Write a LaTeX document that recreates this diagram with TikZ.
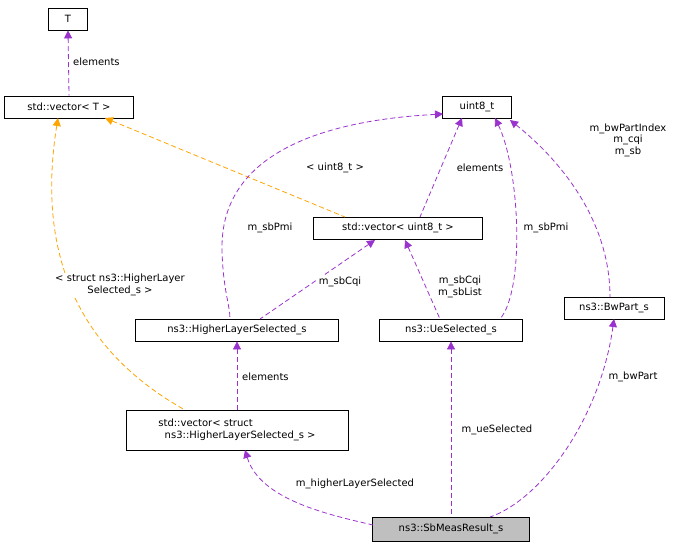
\documentclass[tikz,border=0pt]{standalone}
\usepackage{fontspec}
\setmainfont{DejaVu Sans}
\usetikzlibrary{arrows.meta}
\definecolor{pur}{RGB}{154,50,205}
\definecolor{org}{RGB}{255,165,0}
\definecolor{gr}{RGB}{191,191,191}
\begin{document}
\begin{tikzpicture}[x=1pt,y=-1pt,
  box/.style={draw,fill=white,inner sep=2pt,font=\fontsize{10}{11.5}\selectfont,align=left,line width=0.8pt},
  lbl/.style={font=\fontsize{10}{11.5}\selectfont,align=center,fill=white,inner sep=1pt},
  pe/.style={color=pur,draw=pur,line width=0.8pt,dash pattern=on 5pt off 3pt,{Triangle[length=8pt,width=8pt,fill=pur]}-},
  oe/.style={color=org,draw=org,line width=0.8pt,dash pattern=on 5pt off 3pt,{Triangle[length=8pt,width=8pt,fill=org]}-}]
\useasboundingbox (0,0) rectangle (700,549);
\node[box,minimum width=39pt,minimum height=22pt] (T) at (68,19) {T};
\node[box,minimum width=129pt,minimum height=22pt] (vT) at (69,107) {std::vector< T >};
\node[box,minimum width=69pt,minimum height=22pt] (u8) at (477,107) {uint8\_t};
\node[box,minimum width=169pt,minimum height=22pt] (vu) at (398,228) {std::vector< uint8\_t >};
\node[box,minimum width=100pt,minimum height=22pt] (bw) at (614,308) {ns3::BwPart\_s};
\node[box,minimum width=203pt,minimum height=22pt] (hl) at (237,330) {ns3::HigherLayerSelected\_s};
\node[box,minimum width=143pt,minimum height=22pt] (ue) at (451,330) {ns3::UeSelected\_s};
\node[box,minimum width=222pt,minimum height=40pt] (vs) at (237,430) {std::vector< struct\\\ \ ns3::HigherLayerSelected\_s >};
\node[box,fill=gr,minimum width=157pt,minimum height=24pt] (sb) at (451,529) {ns3::SbMeasResult\_s};

\draw[pe] (T.south) -- (vT.north);
\node[lbl,anchor=west] at (72,62) {elements};
\draw[oe] (105,118) -- (345,217);
\draw[oe] (58,118) .. controls (40,230) and (60,340) .. (185,410);
\node[lbl] at (120,285) {< struct ns3::HigherLayer\\Selected\_s >};
\node[lbl] at (335,168) {< uint8\_t >};
\draw[pe] (462,118) -- (420,217);
\node[lbl] at (480,168) {elements};
\draw[pe] (443,114) .. controls (330,120) and (220,150) .. (222,250) .. controls (223,290) and (230,305) .. (230,319);
\node[lbl] at (270,228) {m\_sbPmi};
\draw[pe] (495,118) .. controls (520,170) and (525,290) .. (500,319);
\node[lbl] at (546,228) {m\_sbPmi};
\draw[pe] (510,120) .. controls (560,160) and (610,220) .. (610,297);
\node[lbl] at (628,140) {m\_bwPartIndex\\m\_cqi\\m\_sb};
\draw[pe] (375,240) -- (260,319);
\node[lbl] at (340,282) {m\_sbCqi};
\draw[pe] (405,240) -- (440,319);
\node[lbl] at (460,287) {m\_sbCqi\\m\_sbList};
\draw[pe,draw=pur] (hl.south) -- (vs.north);
\node[lbl,anchor=west] at (241,377) {elements};
\draw[pe] (245,450) .. controls (260,500) and (330,515) .. (373,525);
\node[lbl] at (355,484) {m\_higherLayerSelected};
\draw[pe,draw=pur] (ue.south) -- (sb.north);
\node[lbl] at (497,430) {m\_ueSelected};
\draw[pe] (614,319) .. controls (600,420) and (540,500) .. (490,517);
\node[lbl] at (633,377) {m\_bwPart};
\end{tikzpicture}
\end{document}
